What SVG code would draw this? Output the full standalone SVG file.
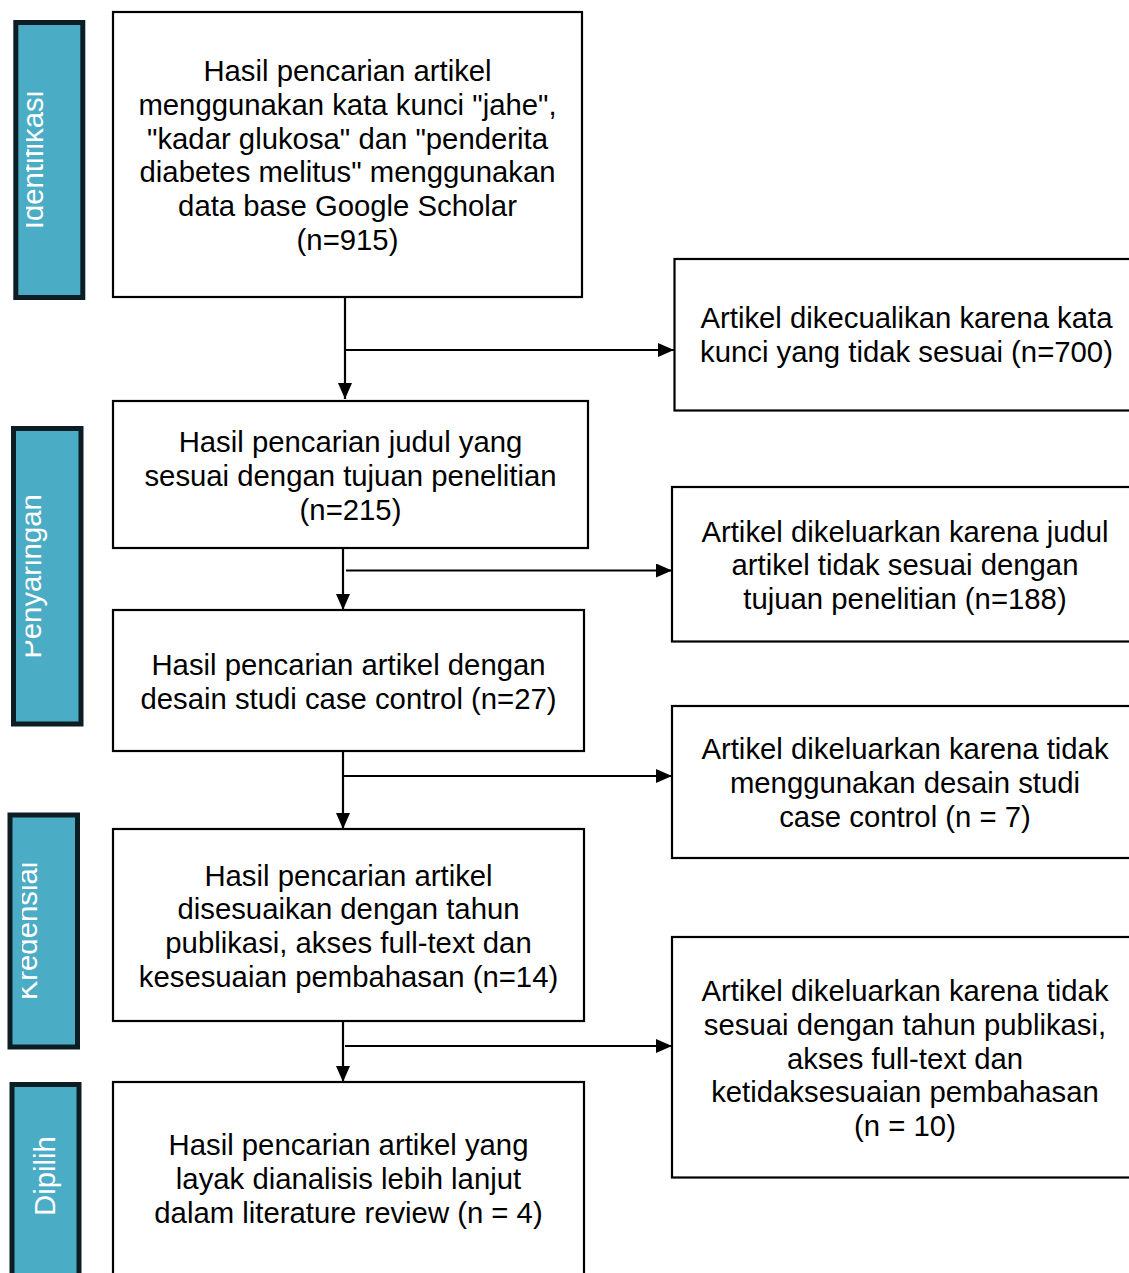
<svg xmlns="http://www.w3.org/2000/svg" width="1129" height="1273" viewBox="0 0 1129 1273">
<style>
.box{fill:#fff;stroke:#000;stroke-width:2.2}
.side{fill:#4bacc6;stroke:#0c1d23;stroke-width:5}
.t{font-family:"Liberation Sans",Arial,sans-serif;font-size:29.3px;fill:#000;text-anchor:middle}
.s{font-family:"Liberation Sans",Arial,sans-serif;font-size:29.3px;fill:#fff;text-anchor:middle}
.ln{stroke:#000;stroke-width:2.2;fill:none}
</style>
<defs>
<marker id="ah" markerWidth="16" markerHeight="14" refX="16" refY="7" orient="auto" markerUnits="userSpaceOnUse">
<path d="M0,0 L16,7 L0,14 Z" fill="#000"/>
</marker>
<clipPath id="c1"><rect x="26" y="0" width="60" height="320"/></clipPath>
<clipPath id="c2"><rect x="25.5" y="400" width="60" height="340"/></clipPath>
<clipPath id="c3"><rect x="22" y="800" width="60" height="260"/></clipPath>
</defs>
<rect width="1129" height="1273" fill="#fff"/>

<g id="side-identifikasi">
<rect class="side" x="15.8" y="22.5" width="67" height="275"/>
<g clip-path="url(#c1)"><text class="s" transform="translate(43,160) rotate(-90)">Identifikasi</text></g>
</g>
<g id="side-penyaringan">
<rect class="side" x="13.5" y="428.5" width="67.5" height="295.5"/>
<g clip-path="url(#c2)"><text class="s" transform="translate(40.7,576.5) rotate(-90)">Penyaringan</text></g>
</g>
<g id="side-kredensial">
<rect class="side" x="10" y="815" width="67.5" height="232"/>
<g clip-path="url(#c3)"><text class="s" transform="translate(37.3,931) rotate(-90)">Kredensial</text></g>
</g>
<g id="side-dipilih">
<rect class="side" x="12" y="1084.5" width="67" height="200"/>
<text class="s" transform="translate(55,1176) rotate(-90)">Dipilih</text>
</g>

<g id="connectors">
<line class="ln" x1="345" y1="297" x2="345" y2="399" marker-end="url(#ah)"/>
<line class="ln" x1="345" y1="350" x2="674" y2="350" marker-end="url(#ah)"/>
<line class="ln" x1="343" y1="546" x2="343" y2="610" marker-end="url(#ah)"/>
<line class="ln" x1="346" y1="570.5" x2="672" y2="570.5" marker-end="url(#ah)"/>
<line class="ln" x1="343" y1="751" x2="343" y2="829" marker-end="url(#ah)"/>
<line class="ln" x1="343" y1="776" x2="672" y2="776" marker-end="url(#ah)"/>
<line class="ln" x1="343" y1="1017" x2="343" y2="1082" marker-end="url(#ah)"/>
<line class="ln" x1="345" y1="1046" x2="672" y2="1046" marker-end="url(#ah)"/>
</g>

<g id="box1">
<rect class="box" x="113" y="12" width="469" height="285"/>
<text class="t" x="347.5" y="81">Hasil pencarian artikel</text>
<text class="t" x="347.5" y="115">menggunakan kata kunci "jahe",</text>
<text class="t" x="347.5" y="149">"kadar glukosa" dan "penderita</text>
<text class="t" x="347.5" y="182">diabetes melitus" menggunakan</text>
<text class="t" x="347.5" y="216">data base Google Scholar</text>
<text class="t" x="347.5" y="250">(n=915)</text>
</g>
<g id="box2">
<rect class="box" x="113" y="401" width="475" height="147"/>
<text class="t" x="350.5" y="452">Hasil pencarian judul yang</text>
<text class="t" x="350.5" y="486">sesuai dengan tujuan penelitian</text>
<text class="t" x="350.5" y="520">(n=215)</text>
</g>
<g id="box3">
<rect class="box" x="113" y="610" width="471" height="141"/>
<text class="t" x="348.5" y="675">Hasil pencarian artikel dengan</text>
<text class="t" x="348.5" y="709">desain studi case control (n=27)</text>
</g>
<g id="box4">
<rect class="box" x="113" y="829" width="471" height="192"/>
<text class="t" x="348.5" y="886">Hasil pencarian artikel</text>
<text class="t" x="348.5" y="919">disesuaikan dengan tahun</text>
<text class="t" x="348.5" y="953">publikasi, akses full-text dan</text>
<text class="t" x="348.5" y="987">kesesuaian pembahasan (n=14)</text>
</g>
<g id="box5">
<rect class="box" x="113" y="1082" width="471" height="220"/>
<text class="t" x="348.5" y="1155">Hasil pencarian artikel yang</text>
<text class="t" x="348.5" y="1189">layak dianalisis lebih lanjut</text>
<text class="t" x="348.5" y="1223">dalam literature review (n = 4)</text>
</g>

<g id="excl1">
<rect class="box" x="674.5" y="259" width="480" height="151.5"/>
<text class="t" x="906.5" y="328">Artikel dikecualikan karena kata</text>
<text class="t" x="906.5" y="362">kunci yang tidak sesuai (n=700)</text>
</g>
<g id="excl2">
<rect class="box" x="672" y="487" width="480" height="154.5"/>
<text class="t" x="905" y="542">Artikel dikeluarkan karena judul</text>
<text class="t" x="905" y="575">artikel tidak sesuai dengan</text>
<text class="t" x="905" y="609">tujuan penelitian (n=188)</text>
</g>
<g id="excl3">
<rect class="box" x="672" y="706" width="480" height="152"/>
<text class="t" x="905" y="759">Artikel dikeluarkan karena tidak</text>
<text class="t" x="905" y="793">menggunakan desain studi</text>
<text class="t" x="905" y="827">case control (n = 7)</text>
</g>
<g id="excl4">
<rect class="box" x="672" y="937" width="480" height="240.5"/>
<text class="t" x="905" y="1001">Artikel dikeluarkan karena tidak</text>
<text class="t" x="905" y="1035">sesuai dengan tahun publikasi,</text>
<text class="t" x="905" y="1069">akses full-text dan</text>
<text class="t" x="905" y="1102">ketidaksesuaian pembahasan</text>
<text class="t" x="905" y="1136">(n = 10)</text>
</g>
</svg>
